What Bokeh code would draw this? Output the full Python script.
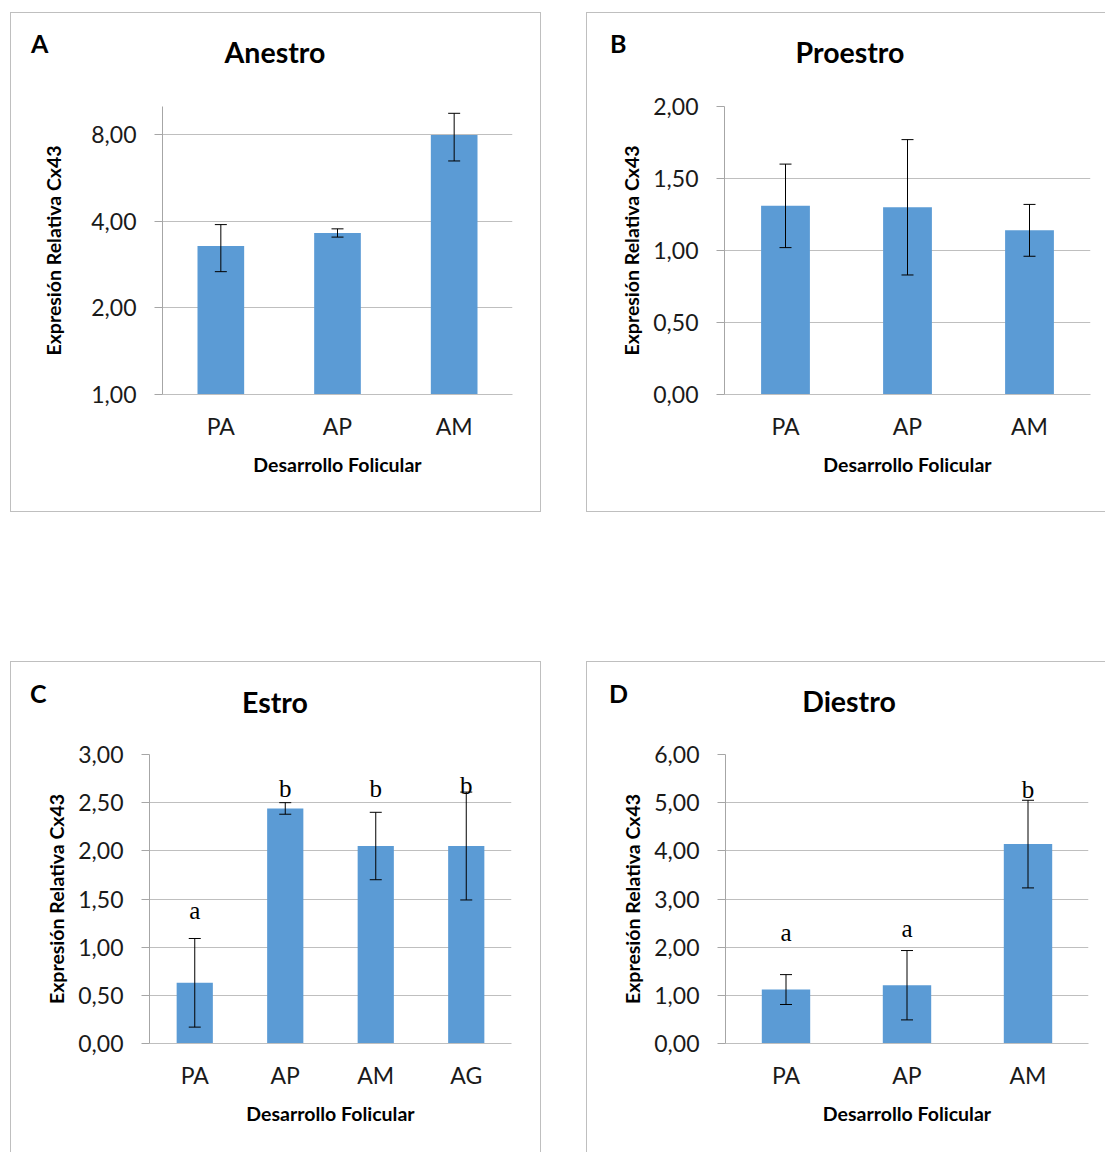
from bokeh.plotting import figure
from bokeh.models import (FactorRange, Range1d, FixedTicker, CustomJSTickFormatter,
                          Whisker, TeeHead, ColumnDataSource, Spacer, Div)
from bokeh.layouts import column, row
from bokeh.embed import file_html
from bokeh.resources import INLINE
from bokeh.core.properties import value

# ---------------- data ----------------
a_cats = ["PA", "AP", "AM"]
a_vals = [3.28, 3.64, 7.97]
a_err = [0.61, 0.12, 1.50]
a_ticks = [1, 2, 4, 8]

b_cats = ["PA", "AP", "AM"]
b_vals = [1.31, 1.30, 1.14]
b_err = [0.29, 0.47, 0.18]
b_ticks = [0, 0.5, 1.0, 1.5, 2.0]

c_cats = ["PA", "AP", "AM", "AG"]
c_vals = [0.63, 2.44, 2.05, 2.05]
c_err = [0.46, 0.06, 0.35, 0.56]
c_letters = ["a", "b", "b", "b"]
c_letter_y = [1.31, 2.57, 2.57, 2.61]
c_ticks = [0, 0.5, 1.0, 1.5, 2.0, 2.5, 3.0]

d_cats = ["PA", "AP", "AM"]
d_vals = [1.12, 1.21, 4.14]
d_err = [0.31, 0.72, 0.91]
d_letters = ["a", "a", "b"]
d_letter_y = [2.16, 2.25, 5.13]
d_ticks = [0, 1, 2, 3, 4, 5, 6]

panel_letters = ["A", "B", "C", "D"]
panel_titles = ["Anestro", "Proestro", "Estro", "Diestro"]
y_title = "Expresión Relativa Cx43"
x_title = "Desarrollo Folicular"

# ---------------- style ----------------
BAR = "#5B9BD5"
GRID = "#BFBFBF"
AXIS = "#A6A6A6"
BOX = "#BFBFBF"
FONT = "Lato"
TXT = "#1A1A1A"


def header(width, height, letter, lx, ltop, title, tcx, ttop):
    html = (
        f'<div style="position:relative;width:{width}px;height:{height}px;'
        f'font-family:Lato;font-weight:bold;color:black;">'
        f'<span style="position:absolute;left:{lx}px;top:{ltop}px;font-size:25px;'
        f'line-height:1;white-space:nowrap;">{letter}</span>'
        f'<span style="position:absolute;left:{tcx}px;top:{ttop}px;font-size:28.5px;'
        f'line-height:1;white-space:nowrap;transform:translateX(-50%);">{title}</span>'
        f'</div>'
    )
    return Div(text=html, width=width, height=height, margin=(0, 0, 0, 0))


def make_panel(cats, vals, errs, y_start, y_end, ticks, log, width, height,
               ml, mr, mt, mb, ylab_standoff, letters=None, letter_y=None):
    p = figure(x_range=FactorRange(*cats),
               y_range=Range1d(y_start, y_end),
               y_axis_type="log" if log else "linear",
               width=width, height=height, output_backend="svg",
               toolbar_location=None,
               min_border_left=ml, min_border_right=mr,
               min_border_top=mt, min_border_bottom=mb)
    p.outline_line_color = None
    p.background_fill_color = "white"
    p.border_fill_color = "white"

    lo = [v - e for v, e in zip(vals, errs)]
    hi = [v + e for v, e in zip(vals, errs)]
    src = ColumnDataSource(dict(x=cats, top=vals, lo=lo, hi=hi))
    p.vbar(x="x", top="top", bottom=y_start, width=0.4, source=src,
           fill_color=BAR, line_color=None)
    w = Whisker(base="x", upper="hi", lower="lo", source=src,
                line_color="black", line_width=1, level="annotation",
                upper_head=TeeHead(size=12, line_color="black", line_width=1),
                lower_head=TeeHead(size=12, line_color="black", line_width=1))
    p.add_layout(w)

    if letters is not None:
        lsrc = ColumnDataSource(dict(x=cats, y=letter_y, t=letters))
        p.text(x="x", y="y", text="t", source=lsrc, text_align="center",
               text_baseline="alphabetic", text_font=value("Liberation Serif"),
               text_font_size="25px", text_color="black", y_offset=-7)

    p.xgrid.visible = False
    p.ygrid.ticker = FixedTicker(ticks=ticks)
    p.ygrid.grid_line_color = GRID
    p.ygrid.grid_line_width = 1

    ya = p.yaxis[0]
    ya.ticker = FixedTicker(ticks=ticks)
    ya.formatter = CustomJSTickFormatter(code="return tick.toFixed(2).replace('.', ',');")
    ya.axis_line_color = AXIS
    ya.major_tick_line_color = AXIS
    ya.major_tick_out = 8
    ya.major_tick_in = 0
    ya.minor_tick_out = 0
    ya.minor_tick_in = 0
    ya.minor_tick_line_color = None
    ya.major_label_text_font = FONT
    ya.major_label_text_font_size = "23px"
    ya.major_label_text_color = TXT
    ya.major_label_standoff = 18
    ya.axis_label = y_title
    ya.axis_label_text_font = FONT
    ya.axis_label_text_font_style = "bold"
    ya.axis_label_text_font_size = "19.5px"
    ya.axis_label_text_color = "black"
    ya.axis_label_standoff = ylab_standoff

    xa = p.xaxis[0]
    xa.axis_line_color = GRID
    xa.major_tick_out = 0
    xa.major_tick_in = 0
    xa.major_tick_line_color = None
    xa.major_label_text_font = FONT
    xa.major_label_text_font_size = "23px"
    xa.major_label_text_color = TXT
    xa.major_label_standoff = 17
    xa.axis_label = x_title
    xa.axis_label_text_font = FONT
    xa.axis_label_text_font_style = "bold"
    xa.axis_label_text_font_size = "19.5px"
    xa.axis_label_text_color = "black"
    xa.axis_label_standoff = 10
    return p


def boxed(div, fig, sides):
    st = {"box-sizing": "content-box"}
    for s in sides:
        st["border-" + s] = "1px solid " + BOX
    return column(div, fig, styles=st)


# Panel A
hA = header(529, 79, panel_letters[0], 20, 18, panel_titles[0], 264, 25)
pA = make_panel(a_cats, a_vals, a_err, 1, 10, a_ticks, True, 529, 419,
                151, 28, 14, 117, 23)
# Panel B
hB = header(518, 79, panel_letters[1], 23, 18, panel_titles[1], 263, 25)
pB = make_panel(b_cats, b_vals, b_err, 0, 2, b_ticks, False, 518, 419,
                137, 15, 14, 117, 7)
# Panel C
hC = header(529, 78, panel_letters[2], 19, 19, panel_titles[2], 264, 26)
pC = make_panel(c_cats, c_vals, c_err, 0, 3, c_ticks, False, 529, 412,
                138, 29, 14, 109, 7, c_letters, c_letter_y)
# Panel D
hD = header(518, 78, panel_letters[3], 22, 19, panel_titles[3], 262, 25)
pD = make_panel(d_cats, d_vals, d_err, 0, 6, d_ticks, False, 518, 412,
                138, 17, 14, 109, 7, d_letters, d_letter_y)

layout = column(
    Spacer(height=12),
    row(Spacer(width=10), boxed(hA, pA, ["top", "left", "right", "bottom"]),
        Spacer(width=45), boxed(hB, pB, ["top", "left", "bottom"])),
    Spacer(height=149),
    row(Spacer(width=10), boxed(hC, pC, ["top", "left", "right"]),
        Spacer(width=45), boxed(hD, pD, ["top", "left"])),
)

open("out.html", "w").write(file_html(layout, INLINE))
